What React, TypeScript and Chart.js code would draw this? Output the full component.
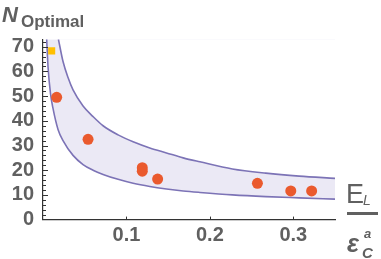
import React, { useEffect, useRef } from 'react';
import { Chart, registerables } from 'chart.js';

Chart.register(...registerables);

// Band boundaries
const lowerX = [0.0044, 0.006, 0.009, 0.012, 0.018, 0.024, 0.036, 0.048, 0.06, 0.072, 0.09, 0.108, 0.128, 0.148, 0.168, 0.188, 0.227, 0.267, 0.307, 0.35];
const lowerY = [73, 62, 51, 45, 36.5, 32, 26, 22.3, 20, 18.3, 16.3, 14.7, 13.4, 12.4, 11.6, 11, 10, 9.3, 8.8, 8.3];
const upperX = [0.0185, 0.024, 0.03, 0.036, 0.048, 0.06, 0.072, 0.09, 0.108, 0.128, 0.148, 0.168, 0.188, 0.227, 0.267, 0.307, 0.35];
const upperY = [73, 64, 57.5, 52.5, 46, 41.7, 38, 34.3, 31.5, 29, 27, 25, 23.4, 20.5, 18.8, 17.6, 16.7];

// Measured points
const measuredX = [0.0164, 0.054, 0.119, 0.119, 0.1374, 0.257, 0.297, 0.322];
const measuredY = [49.5, 32.5, 21, 19.6, 16.4, 14.7, 11.6, 11.6];
const optimalX = [0.0104];
const optimalY = [68.3];

// Ticks
const xLabelValues = [0.1, 0.2, 0.3];
const yLabelValues = [0, 10, 20, 30, 40, 50, 60, 70];

const AXIS_COLOR = '#333333';
const TEXT_COLOR = '#606060';
const LINE_COLOR = '#7c73b6';
const FILL_COLOR = '#ebe9f5';
const FONT = '"Liberation Sans", Arial, sans-serif';

const pts = (xs: number[], ys: number[]) => xs.map((x, i) => ({ x, y: ys[i] }));
const near = (a: number, b: number) => Math.abs(a - b) < 1e-6;

const tickPlugin = {
  id: 'inwardTicks',
  afterDatasetsDraw(chart: any) {
    const { ctx, chartArea, scales } = chart;
    const x = scales.x;
    const y = scales.y;
    ctx.save();
    ctx.strokeStyle = AXIS_COLOR;
    ctx.lineWidth = 1;
    y.ticks.forEach((t: any) => {
      const v = t.value;
      if (!near(v / 2, Math.round(v / 2))) return;
      if (near(v, 0)) return;
      const py = Math.round(y.getPixelForValue(v)) + 0.5;
      const isMajor = yLabelValues.some((m) => near(m, v));
      const len = isMajor ? 5 : 3;
      ctx.beginPath();
      ctx.moveTo(chartArea.left, py);
      ctx.lineTo(chartArea.left + len, py);
      ctx.stroke();
    });
    xLabelValues.forEach((v) => {
      const px = Math.round(x.getPixelForValue(v)) + 0.5;
      ctx.beginPath();
      ctx.moveTo(px, chartArea.bottom);
      ctx.lineTo(px, chartArea.bottom - 3);
      ctx.stroke();
    });
    ctx.restore();
  },
};

const titlePlugin = {
  id: 'titles',
  afterDraw(chart: any) {
    const { ctx } = chart;
    ctx.save();
    ctx.fillStyle = TEXT_COLOR;
    ctx.textBaseline = 'alphabetic';
    ctx.textAlign = 'left';
    // y title
    ctx.font = `italic bold 22px ${FONT}`;
    ctx.fillText('N', 2, 22);
    ctx.font = `bold 17px ${FONT}`;
    ctx.fillText('Optimal', 21, 27);
    // x title (fraction)
    ctx.font = `27px ${FONT}`;
    ctx.fillText('E', 346, 203);
    ctx.font = `italic 14px ${FONT}`;
    ctx.fillText('L', 363, 205);
    ctx.fillRect(347, 212, 31, 3);
    ctx.font = `italic bold 25px ${FONT}`;
    ctx.fillText('ε', 347, 252);
    ctx.font = `italic bold 13px ${FONT}`;
    ctx.fillText('a', 364, 238);
    ctx.font = `italic bold 15px ${FONT}`;
    ctx.fillText('C', 362, 258);
    ctx.restore();
  },
};

export default function App() {
  const ref = useRef<HTMLCanvasElement>(null);
  useEffect(() => {
    if (!ref.current) return;
    const chart = new Chart(ref.current, {
      type: 'scatter',
      data: {
        datasets: [
          {
            label: 'optimal',
            data: pts(optimalX, optimalY),
            pointStyle: 'rect',
            pointRadius: 5,
            backgroundColor: '#ffbf00',
            borderColor: '#ffbf00',
            borderWidth: 0,
          },
          {
            label: 'measured',
            data: pts(measuredX, measuredY),
            pointStyle: 'circle',
            pointRadius: 5.5,
            backgroundColor: '#ea5a2e',
            borderColor: '#ea5a2e',
            borderWidth: 0,
          },
          {
            label: 'upper',
            data: pts(upperX, upperY),
            showLine: true,
            pointRadius: 0,
            borderColor: LINE_COLOR,
            borderWidth: 1.6,
            cubicInterpolationMode: 'monotone',
            fill: 'end',
            backgroundColor: '#ffffff',
          } as any,
          {
            label: 'lower',
            data: pts(lowerX, lowerY),
            showLine: true,
            pointRadius: 0,
            borderColor: LINE_COLOR,
            borderWidth: 1.6,
            cubicInterpolationMode: 'monotone',
            fill: 'end',
            backgroundColor: FILL_COLOR,
          } as any,
        ],
      },
      options: {
        animation: false,
        responsive: false,
        events: [],
        layout: { padding: { top: 39.3, right: 46, left: 0, bottom: 0 } },
        plugins: {
          legend: { display: false },
          tooltip: { enabled: false },
          filler: { drawTime: 'beforeDatasetDraw' } as any,
        },
        scales: {
          x: {
            type: 'linear',
            min: 0,
            max: 0.35,
            afterFit: (s: any) => { s.height = 259 - 219.6; },
            grid: { display: false, drawTicks: false },
            border: { display: true, color: AXIS_COLOR, width: 1.2 },
            ticks: {
              stepSize: 0.1,
              includeBounds: false,
              padding: 4,
              autoSkip: false,
              maxRotation: 0,
              color: TEXT_COLOR,
              font: { family: FONT, size: 20, weight: 'bold' },
              callback: (v: any) => {
                const n = Number(v);
                return xLabelValues.some((m) => near(m, n)) ? n.toFixed(1) : '';
              },
            },
          },
          y: {
            type: 'linear',
            min: 0,
            max: 73,
            afterFit: (s: any) => { s.width = 43; },
            grid: { display: false, drawTicks: false },
            border: { display: true, color: AXIS_COLOR, width: 1.2 },
            ticks: {
              stepSize: 2,
              includeBounds: false,
              padding: 9,
              autoSkip: false,
              color: TEXT_COLOR,
              font: { family: FONT, size: 20, weight: 'bold' },
              callback: (v: any) => {
                const n = Number(v);
                return yLabelValues.some((m) => near(m, n)) ? String(n) : '';
              },
            },
          },
        },
      },
      plugins: [tickPlugin, titlePlugin],
    });
    return () => chart.destroy();
  }, []);
  return (
    <div style={{ position: 'absolute', left: 0, top: 0, width: 381, height: 259, background: '#ffffff' }}>
      <canvas ref={ref} width={381} height={259} style={{ display: 'block' }} />
    </div>
  );
}
